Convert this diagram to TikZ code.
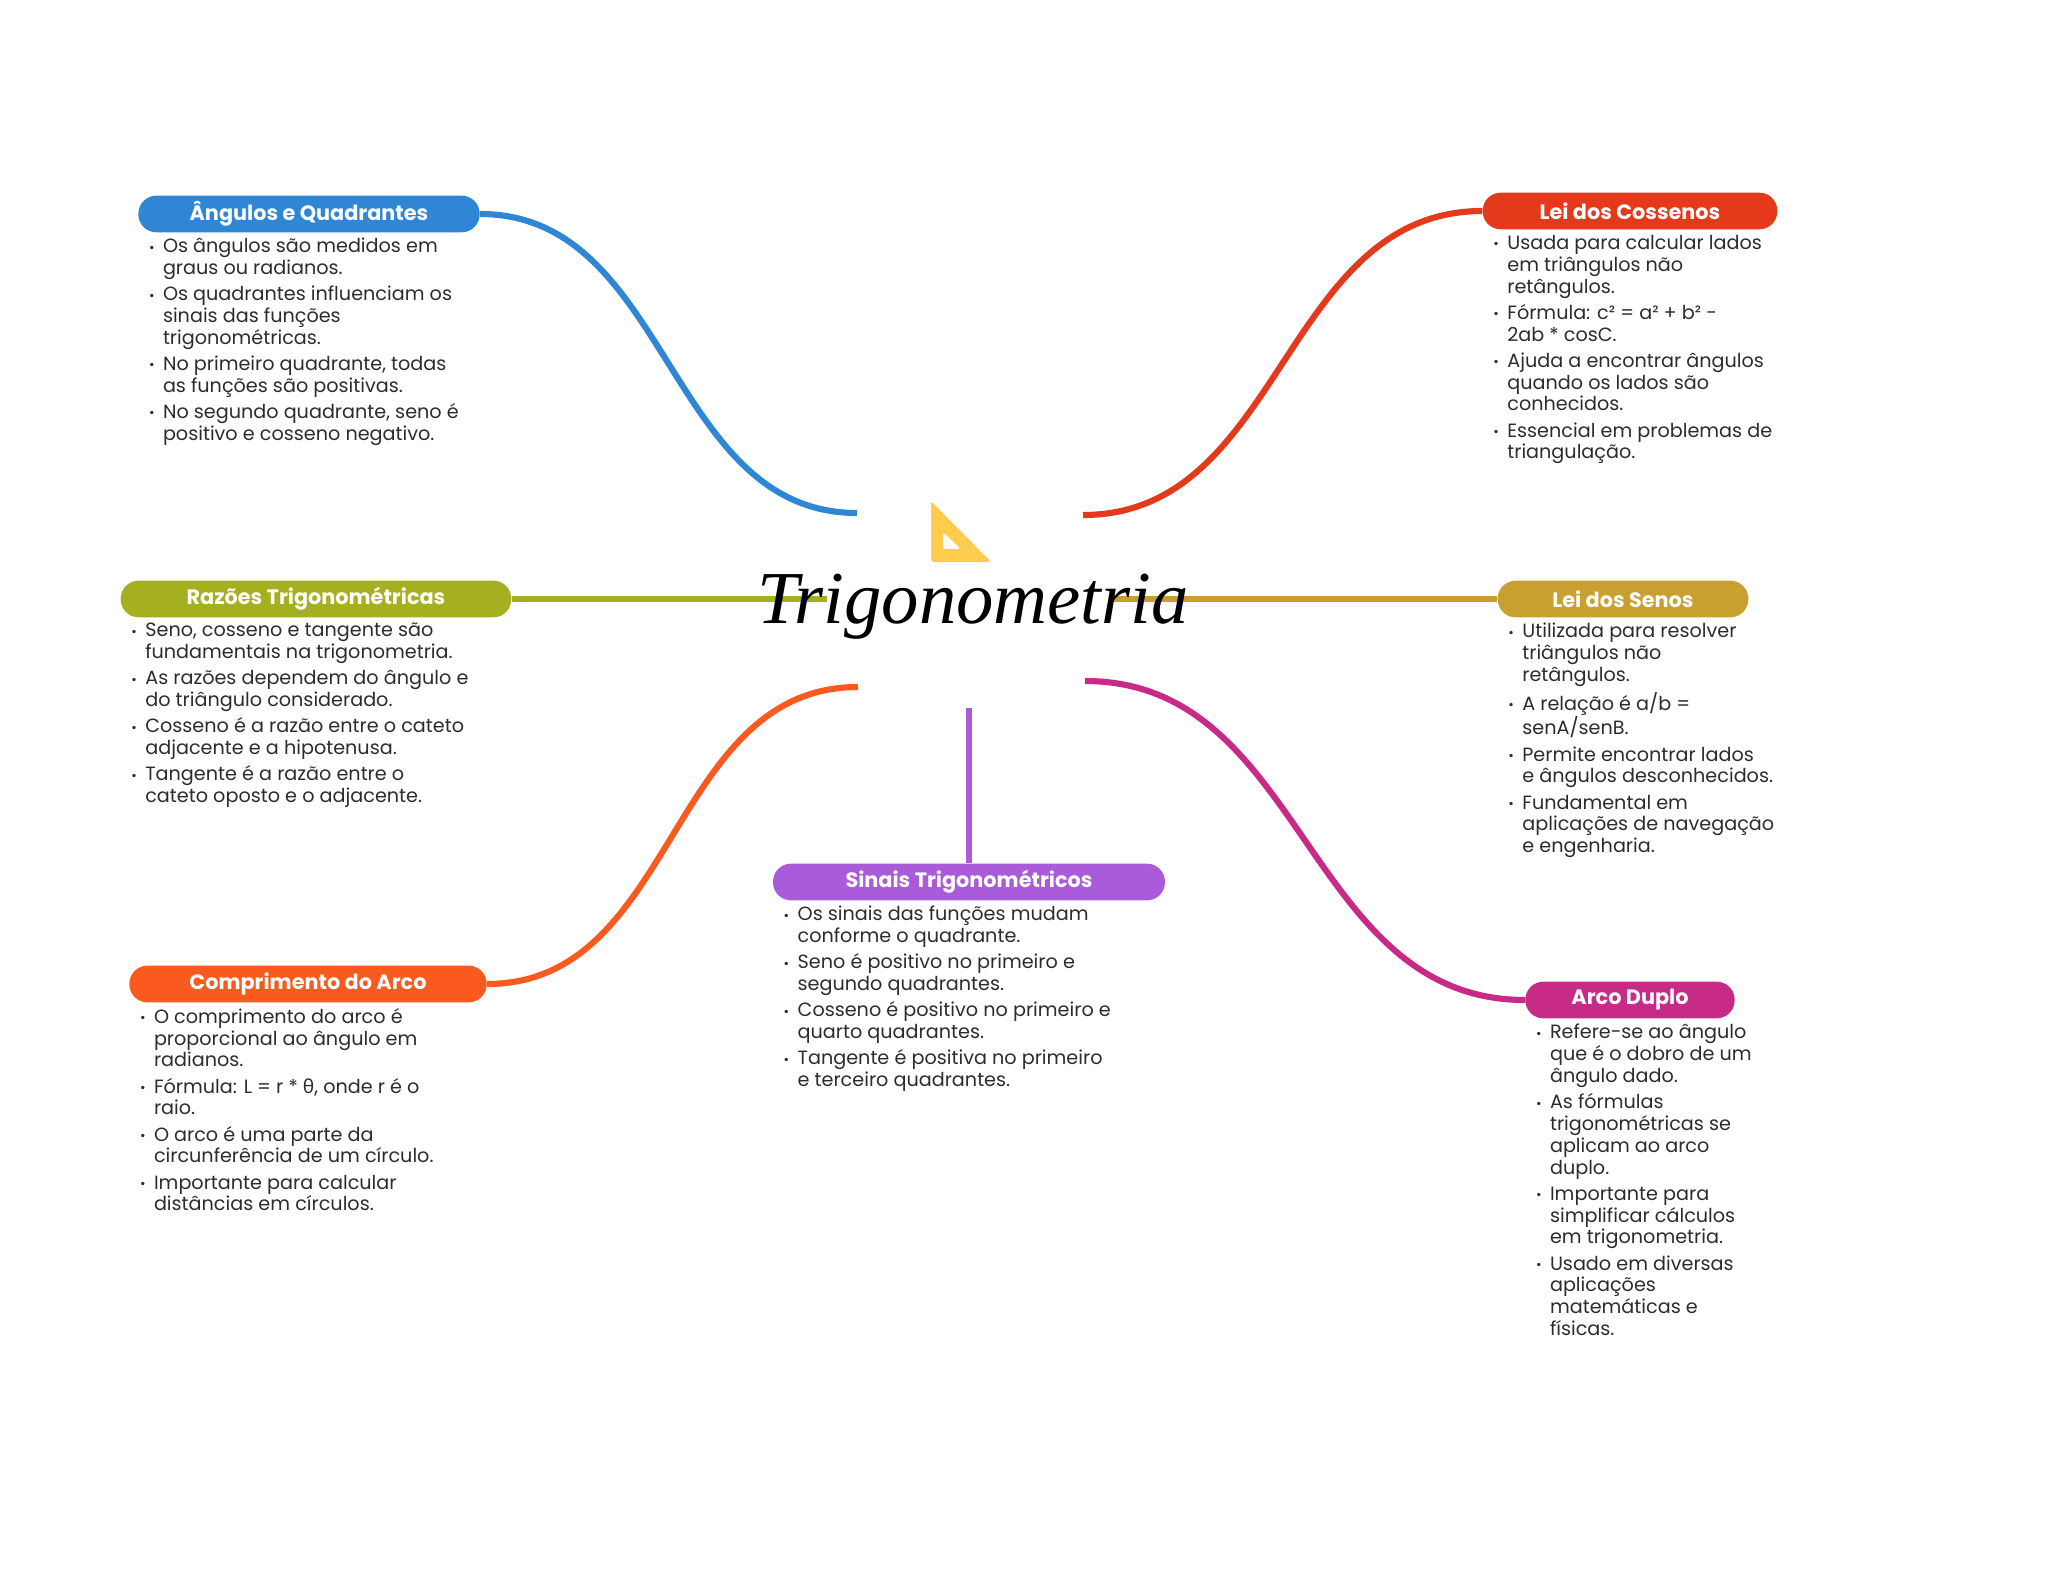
\documentclass[tikz,border=0pt]{standalone}
\usepackage{fontspec}
\setmainfont{Poppins}
\newfontfamily\greekfont{Noto Sans}
\newfontfamily\titlefont{Liberation Serif}
\usetikzlibrary{positioning}

\definecolor{bluetopic}{HTML}{2E86D5}
\definecolor{redtopic}{HTML}{E5391C}
\definecolor{olivetopic}{HTML}{A4B01F}
\definecolor{goldtopic}{HTML}{C9A02F}
\definecolor{orangetopic}{HTML}{FA5A1E}
\definecolor{purpletopic}{HTML}{A95BDA}
\definecolor{magentatopic}{HTML}{C82A87}
\definecolor{bodyink}{HTML}{2C2C2C}
\definecolor{squareyellow}{HTML}{FFCC4D}

\newcommand{\bu}{\makebox[10.5pt][l]{\raisebox{.5pt}{\scalebox{.7}{•}}}}
\newcommand{\ind}{\hspace*{10.5pt}}

\tikzset{
  topic/.style={
    rectangle,
    rounded corners=13.5pt,
    minimum height=27.5pt,
    inner sep=0pt,
    fill=#1,
    text=white,
    font=\fontsize{15.6}{18}\selectfont\bfseries
  },
  bodytext/.style={
    anchor=north west,
    inner sep=0pt,
    align=left,
    text=bodyink,
    font=\fontsize{14.4}{16.35}\selectfont
  },
  branch/.style={line width=4.6pt,#1}
}

\begin{document}
\begin{tikzpicture}[x=.75pt,y=-.75pt]
  \useasboundingbox (0,0) rectangle (2048,1569);

  \coordinate (tl) at (857,513);
  \coordinate (tr) at (1083,515);
  \coordinate (ml) at (827,599);
  \coordinate (mr) at (1111,599);
  \coordinate (bl) at (858,687);
  \coordinate (br) at (1085,681);
  \coordinate (bc) at (969,708);

  % topics
  \node[topic=bluetopic,minimum width=256pt] (angulos) at (309,214) {Ângulos e Quadrantes};
  \node[topic=redtopic,minimum width=221pt] (cossenos) at (1630,211) {Lei dos Cossenos};
  \node[topic=olivetopic,minimum width=293pt] (razoes) at (316,599) {Razões Trigonométricas};
  \node[topic=goldtopic,minimum width=188pt] (senos) at (1623,599) {Lei dos Senos};
  \node[topic=orangetopic,minimum width=268pt] (arco) at (308,984) {Comprimento do Arco};
  \node[topic=purpletopic,minimum width=294pt] (sinais) at (969,882) {Sinais Trigonométricos};
  \node[topic=magentatopic,minimum width=157pt] (duplo) at (1630,1000) {Arco Duplo};

  % branches
  \draw[branch=bluetopic] (angulos.east) .. controls +(190,0) and +(-190,0) .. (tl);
  \draw[branch=redtopic] (cossenos.west) .. controls +(-200,0) and +(200,0) .. (tr);
  \draw[branch=olivetopic] (razoes.east) -- (ml);
  \draw[branch=goldtopic] (senos.west) -- (mr);
  \draw[branch=orangetopic] (arco.east) .. controls +(190,0) and +(-190,0) .. (bl);
  \draw[branch=magentatopic] (duplo.west) .. controls +(-220,0) and +(220,0) .. (br);
  \draw[branch=purpletopic] (sinais.north) -- (bc);

  % centre
  \fill[squareyellow,rounded corners=2pt,even odd rule]
    (931,501) -- (991,562) -- (931,562) -- cycle
    (943,532) -- (961,549) -- (943,549) -- cycle;
  \node[font=\fontsize{56}{60}\titlefont\itshape,inner sep=0pt] (centre) at (973,607) {Trigonometria};

  % lists
  \node[bodytext,below right=4pt and 8pt of angulos.south west] (angulosbody) {%
    \bu Os ângulos são medidos em\\
    \ind graus ou radianos.\\[3.3pt]
    \bu Os quadrantes influenciam os\\
    \ind sinais das funções\\
    \ind trigonométricas.\\[3.3pt]
    \bu No primeiro quadrante, todas\\
    \ind as funções são positivas.\\[3.3pt]
    \bu No segundo quadrante, seno é\\
    \ind positivo e cosseno negativo.};
  \node[bodytext,below right=4pt and 8pt of cossenos.south west] (cossenosbody) {%
    \bu Usada para calcular lados\\
    \ind em triângulos não\\
    \ind retângulos.\\[3.3pt]
    \bu Fórmula: c² = a² + b² -\\
    \ind 2ab * cosC.\\[3.3pt]
    \bu Ajuda a encontrar ângulos\\
    \ind quando os lados são\\
    \ind conhecidos.\\[3.3pt]
    \bu Essencial em problemas de\\
    \ind triangulação.};
  \node[bodytext,below right=4pt and 8pt of razoes.south west] (razoesbody) {%
    \bu Seno, cosseno e tangente são\\
    \ind fundamentais na trigonometria.\\[3.3pt]
    \bu As razões dependem do ângulo e\\
    \ind do triângulo considerado.\\[3.3pt]
    \bu Cosseno é a razão entre o cateto\\
    \ind adjacente e a hipotenusa.\\[3.3pt]
    \bu Tangente é a razão entre o\\
    \ind cateto oposto e o adjacente.};
  \node[bodytext,below right=4pt and 8pt of senos.south west] (senosbody) {%
    \bu Utilizada para resolver\\
    \ind triângulos não\\
    \ind retângulos.\\[3.3pt]
    \bu A relação é a/b =\\
    \ind senA/senB.\\[3.3pt]
    \bu Permite encontrar lados\\
    \ind e ângulos desconhecidos.\\[3.3pt]
    \bu Fundamental em\\
    \ind aplicações de navegação\\
    \ind e engenharia.};
  \node[bodytext,below right=4pt and 8pt of arco.south west] (arcobody) {%
    \bu O comprimento do arco é\\
    \ind proporcional ao ângulo em\\
    \ind radianos.\\[3.3pt]
    \bu Fórmula: L = r * {\greekfont θ}, onde r é o\\
    \ind raio.\\[3.3pt]
    \bu O arco é uma parte da\\
    \ind circunferência de um círculo.\\[3.3pt]
    \bu Importante para calcular\\
    \ind distâncias em círculos.};
  \node[bodytext,below right=4pt and 8pt of sinais.south west] (sinaisbody) {%
    \bu Os sinais das funções mudam\\
    \ind conforme o quadrante.\\[3.3pt]
    \bu Seno é positivo no primeiro e\\
    \ind segundo quadrantes.\\[3.3pt]
    \bu Cosseno é positivo no primeiro e\\
    \ind quarto quadrantes.\\[3.3pt]
    \bu Tangente é positiva no primeiro\\
    \ind e terceiro quadrantes.};
  \node[bodytext,below right=4pt and 8pt of duplo.south west] (duplobody) {%
    \bu Refere-se ao ângulo\\
    \ind que é o dobro de um\\
    \ind ângulo dado.\\[3.3pt]
    \bu As fórmulas\\
    \ind trigonométricas se\\
    \ind aplicam ao arco\\
    \ind duplo.\\[3.3pt]
    \bu Importante para\\
    \ind simplificar cálculos\\
    \ind em trigonometria.\\[3.3pt]
    \bu Usado em diversas\\
    \ind aplicações\\
    \ind matemáticas e\\
    \ind físicas.};
\end{tikzpicture}
\end{document}
